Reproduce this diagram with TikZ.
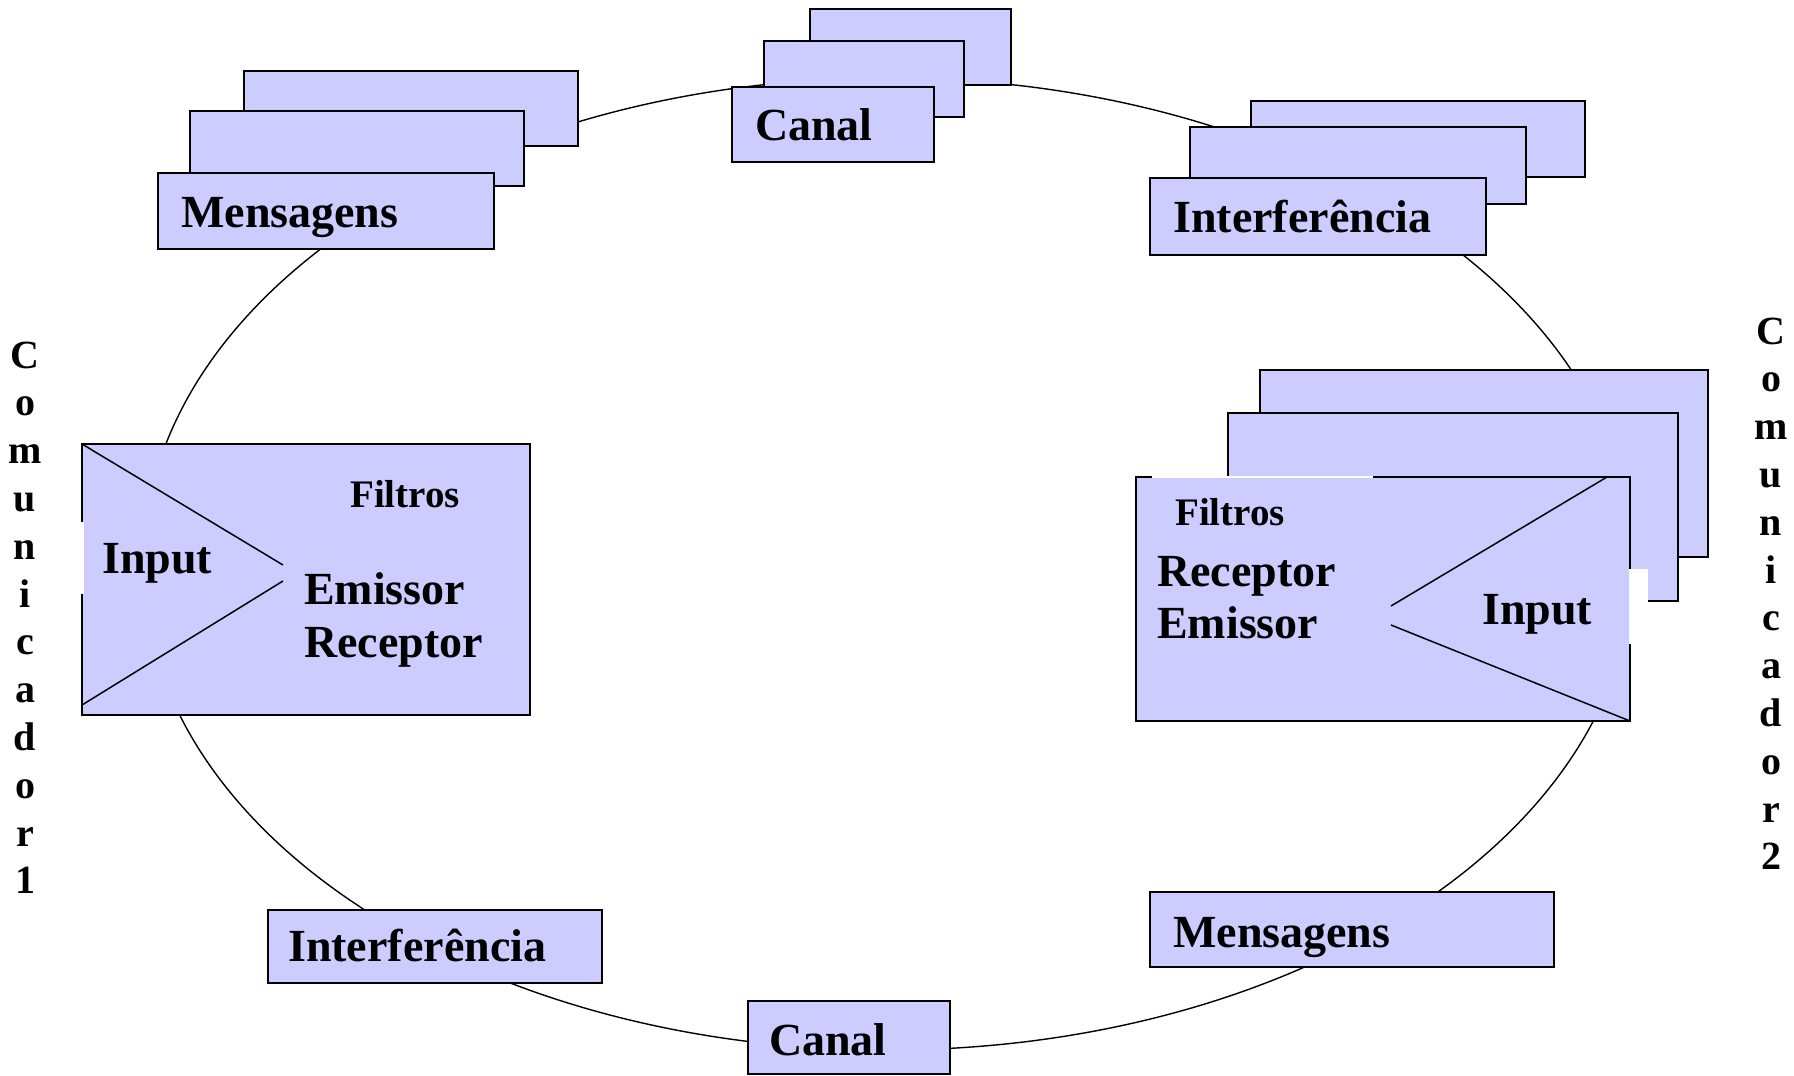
\documentclass[tikz,border=0pt]{standalone}
\usepackage{fontspec}
\setmainfont{Liberation Serif}
\definecolor{lav}{HTML}{CCCCFF}
\tikzset{
  box/.style={draw=black, fill=lav, line width=1.6pt, anchor=north west, inner sep=0pt, outer sep=0pt},
  lbl/.style={font=\bfseries\fontsize{46}{50}\selectfont, inner sep=0pt, anchor=base west},
  smalllbl/.style={font=\bfseries\fontsize{39}{44}\selectfont, inner sep=0pt, anchor=base west},
  vlet/.style={font=\bfseries\fontsize{40}{44}\selectfont, inner sep=0pt, anchor=base},
  ring/.style={draw=black, line width=1.4pt},
  tri/.style={draw=black, line width=1.5pt},
}
\newcommand\plainbox[5]{\node[box, minimum width=#4pt, minimum height=#5pt] (#1) at (#2,#3) {};}
\begin{document}
\begin{tikzpicture}[x=1pt,y=-1pt]
\useasboundingbox (0,0) rectangle (1794,1076);
% ring
\draw[ring] (888,564) ellipse [x radius=745pt, y radius=486pt];
% top-left Mensagens stack
\plainbox{mL1}{244}{71}{334}{75}
\plainbox{mL2}{190}{111}{334}{75}
\plainbox{mL3}{158}{173}{336}{76}
\node[lbl] (tmL) at (181,227) {Mensagens};
% top Canal stack
\plainbox{cT1}{810}{9}{201}{76}
\plainbox{cT2}{764}{41}{200}{76}
\plainbox{cT3}{732}{87}{202}{75}
\node[lbl] (tcT) at (755,140) {Canal};
% top-right Interferencia stack
\plainbox{iT1}{1251}{101}{334}{76}
\plainbox{iT2}{1190}{127}{336}{77}
\plainbox{iT3}{1150}{178}{336}{77}
\node[lbl] (tiT) at (1173,232) {Interferência};
% left communicator box
\plainbox{LB}{82}{444}{448}{271}
\fill[white] (80,522) rectangle (83.5,594);
\coordinate (ltipU) at (283,565);
\coordinate (ltipD) at (283,581);
\coordinate (lbot) at (82,705);
\draw[tri] (LB.north west) -- (ltipU);
\draw[tri] (ltipD) -- (lbot);
\node[smalllbl] (lF) at (350,507) {Filtros};
\node[lbl] (lI) at (102,573) {Input};
\node[lbl] (lE) at (304,604) {Emissor};
\node[lbl] (lR) at (304,657) {Receptor};
% right communicator stack
\plainbox{RB}{1260}{370}{448}{187}
\plainbox{RM}{1228}{413}{450}{188}
\plainbox{RF}{1136}{477}{494}{244}
\draw[white, line width=1.6pt] (1152,477) -- (1373,477);
\fill[white] (1628.5,569) rectangle (1648,644);
\coordinate (rtop) at (1607,477);
\coordinate (rtipU) at (1391,606);
\coordinate (rtipD) at (1391,625);
\draw[tri] (rtop) -- (rtipU);
\draw[tri] (rtipD) -- (RF.south east);
\node[smalllbl] (rF) at (1175,525) {Filtros};
\node[lbl] (rR) at (1157,586) {Receptor};
\node[lbl] (rE) at (1157,638) {Emissor};
\node[lbl] (rI) at (1482,624) {Input};
% bottom boxes
\plainbox{iB}{268}{910}{334}{73}
\node[lbl] (tiB) at (288,961) {Interferência};
\plainbox{cB}{748}{1001}{202}{73}
\node[lbl] (tcB) at (769,1055) {Canal};
\plainbox{mB}{1150}{892}{404}{75}
\node[lbl] (tmB) at (1173,947) {Mensagens};
% vertical labels
\foreach \ch [count=\k from 0] in {C,o,m,u,n,i,c,a,d,o,r,1}
  \node[vlet] (vl\k) at (25,368+47.8*\k) {\ch};
\foreach \ch [count=\k from 0] in {C,o,m,u,n,i,c,a,d,o,r,2}
  \node[vlet] (vr\k) at (1771,344+47.8*\k) {\ch};
\end{tikzpicture}
\end{document}
